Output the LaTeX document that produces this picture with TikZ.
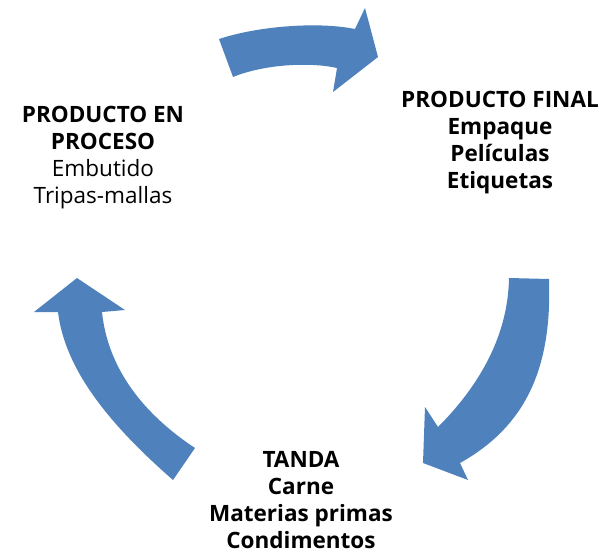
\documentclass[tikz,border=0pt]{standalone}
\usepackage{fontspec}
\setmainfont{Open Sans}
\usepackage{tikz}
\usetikzlibrary{positioning}
\definecolor{cycleblue}{HTML}{4F81BD}
\tikzset{every node/.style={font=\fontsize{22.5}{27}\selectfont}}

\begin{document}
\begin{tikzpicture}[
            x=1pt, y=-1pt,
            cyclearrow/.style={fill=cycleblue, draw=none},
            stage/.style={align=center, inner sep=0pt, anchor=base}
        ]

        \useasboundingbox (0,0) rectangle (613,559);

        % Stages of the cycle (anchored at the last line)
        \node[stage] (proceso) at (103,203) {\textbf{PRODUCTO EN}\\\textbf{PROCESO}\\Embutido\\Tripas-mallas};
        \node[stage] (final) at (500,188) {\textbf{PRODUCTO FINAL}\\\textbf{Empaque}\\\textbf{Películas}\\\textbf{Etiquetas}};
        \node[stage] (tanda) at (301,548) {\textbf{TANDA}\\\textbf{Carne}\\\textbf{Materias primas}\\\textbf{Condimentos}};

        % Top arrow (proceso -> final)
        \fill[cyclearrow] (219,39) .. controls (255,27) and (315,21) .. (355,29)
            -- (365,8) -- (378,57) -- (333,92) -- (337,68)
            .. controls (310,62) and (265,64) .. (233,77) -- cycle;

        % Right arrow (final -> tanda)
        \fill[cyclearrow] (549,279) .. controls (552,365) and (528,425) .. (460,463)
            -- (468,480) -- (423,463) -- (425,407) -- (438,427)
            .. controls (475,390) and (508,340) .. (509,278) -- cycle;

        % Left arrow (tanda -> proceso)
        \fill[cyclearrow] (173,480) .. controls (110,425) and (65,370) .. (58,312)
            -- (34,312) -- (77,278) -- (125,310) -- (102,312)
            .. controls (108,370) and (145,415) .. (195,448) -- cycle;

    \end{tikzpicture}
\end{document}
